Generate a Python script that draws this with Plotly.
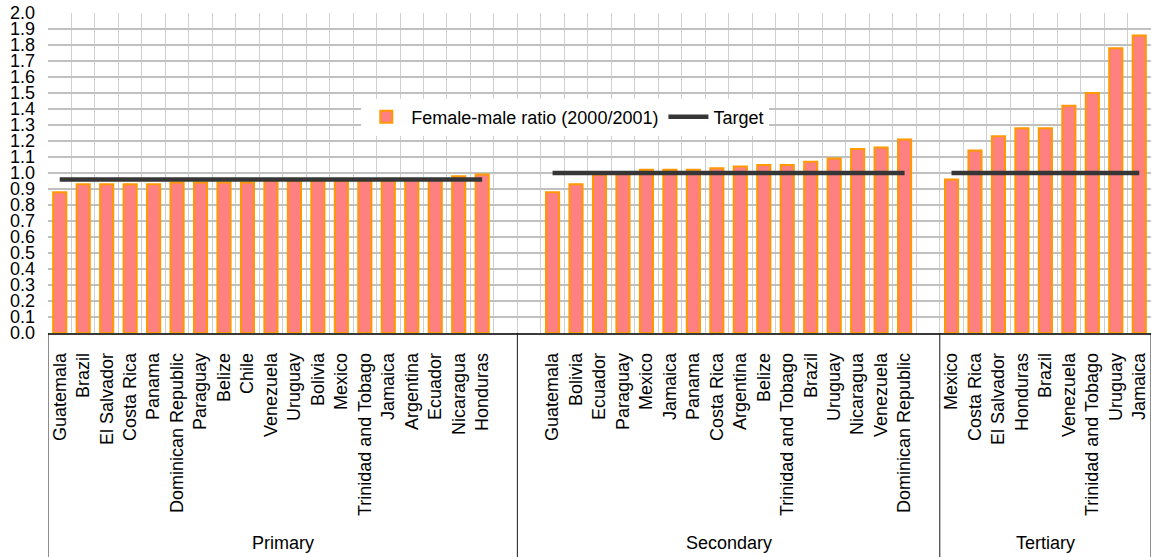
import plotly.graph_objects as go

# ---------------- data ----------------
group_names = ["Primary", "Secondary", "Tertiary"]

primary_countries = ["Guatemala", "Brazil", "El Salvador", "Costa Rica", "Panama",
                     "Dominican Republic", "Paraguay", "Belize", "Chile", "Venezuela",
                     "Uruguay", "Bolivia", "Mexico", "Trinidad and Tobago", "Jamaica",
                     "Argentina", "Ecuador", "Nicaragua", "Honduras"]
primary_values = [0.88, 0.93, 0.93, 0.93, 0.93, 0.94, 0.94, 0.94, 0.94, 0.95,
                  0.95, 0.95, 0.95, 0.95, 0.95, 0.96, 0.96, 0.98, 0.99]

secondary_countries = ["Guatemala", "Bolivia", "Ecuador", "Paraguay", "Mexico", "Jamaica",
                       "Panama", "Costa Rica", "Argentina", "Belize", "Trinidad and Tobago",
                       "Brazil", "Uruguay", "Nicaragua", "Venezuela", "Dominican Republic"]
secondary_values = [0.88, 0.93, 0.99, 1.00, 1.02, 1.02, 1.02, 1.03, 1.04, 1.05, 1.05,
                    1.07, 1.09, 1.15, 1.16, 1.21]

tertiary_countries = ["Mexico", "Costa Rica", "El Salvador", "Honduras", "Brazil",
                      "Venezuela", "Trinidad and Tobago", "Uruguay", "Jamaica"]
tertiary_values = [0.96, 1.14, 1.23, 1.28, 1.28, 1.42, 1.50, 1.78, 1.86]

target_values = [0.96, 1.0, 1.0]

# ---------------- layout helpers (empty category slots around groups) ----------------
group_countries = [primary_countries, secondary_countries, tertiary_countries]
group_values = [primary_values, secondary_values, tertiary_values]
slot_padding = [(0, 1), (1, 1), (0, 0)]

FONT = "Liberation Sans, Arial, sans-serif"

xs, ys, labels = [], [], []
tx, ty = [], []
bounds = [-0.5]
pos = 0
for cs, vs, tv, (pb, pa) in zip(group_countries, group_values, target_values, slot_padding):
    pos += pb
    gx = list(range(pos, pos + len(cs)))
    xs += gx
    ys += vs
    labels += cs
    tx += [gx[0], gx[-1], None]
    ty += [tv, tv, None]
    pos += len(cs) + pa
    bounds.append(pos - 0.5)

n_slots = pos

fig = go.Figure()
fig.add_trace(go.Bar(
    x=xs, y=ys, name="Female-male ratio (2000/2001)",
    marker=dict(color="#FF8080", line=dict(color="#FF9900", width=2)),
    width=0.56,
))
fig.add_trace(go.Scatter(
    x=tx, y=ty, name="Target", mode="lines",
    line=dict(color="#363636", width=4.5),
    connectgaps=False,
))

# group separators and group labels
shapes = []
for b in bounds:
    shapes.append(dict(type="line", xref="x", yref="paper", x0=b, x1=b,
                       y0=0, y1=-0.71, line=dict(color="#1a1a1a", width=1)))
annotations = []
for name, lo, hi in zip(group_names, bounds[:-1], bounds[1:]):
    annotations.append(dict(x=(lo + hi) / 2, y=-0.656, xref="x", yref="paper",
                            text=name, showarrow=False,
                            font=dict(family=FONT, size=18, color="#000000"),
                            xanchor="center", yanchor="middle"))

fig.update_layout(
    width=1151, height=557, autosize=False,
    margin=dict(l=48, r=0, t=13, b=224, pad=0),
    paper_bgcolor="white", plot_bgcolor="white",
    font=dict(family=FONT, size=18, color="#000000"),
    bargap=0.44,
    showlegend=True,
    legend=dict(orientation="h", x=0.469, y=0.675, xanchor="center", yanchor="middle",
                bgcolor="white", font=dict(family=FONT, size=18, color="#000000"),
                borderwidth=0, itemwidth=40),
    shapes=shapes,
    annotations=annotations,
)
fig.update_xaxes(
    range=[-0.5, n_slots - 0.5], automargin=False,
    tickmode="array", tickvals=xs, ticktext=labels,
    tickangle=-90, ticks="", ticklabelstandoff=11,
    tickfont=dict(family=FONT, size=18, color="#000000"),
    showgrid=False, zeroline=False,
    showline=True, linecolor="#3a3a3a", linewidth=1.5,
    minor=dict(tickmode="array", tickvals=[i - 0.5 for i in range(n_slots + 1)],
               showgrid=True, gridcolor="#d0d0d0", gridwidth=1, ticks=""),
)
fig.update_yaxes(
    range=[0, 2.0], automargin=False,
    tickmode="linear", tick0=0, dtick=0.1, tickformat=".1f",
    ticks="", ticklabelstandoff=12,
    tickfont=dict(family=FONT, size=18, color="#000000"),
    showgrid=True, gridcolor="#c0c0c0", gridwidth=2,
    zeroline=False, showline=False,
)

fig.write_html(
    "out.html",
    config={"displayModeBar": False},
    post_script="document.body.style.margin='0';document.body.style.overflow='hidden';",
)
